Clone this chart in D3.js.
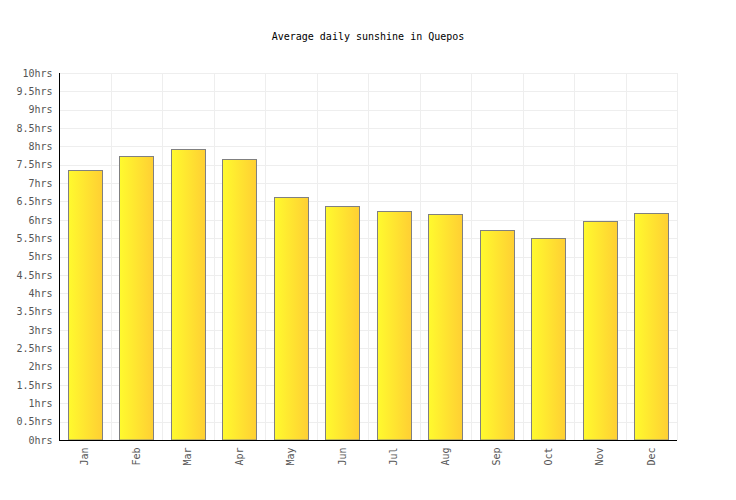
<!DOCTYPE html>
<html><head><meta charset="utf-8">
<script src="https://cdn.jsdelivr.net/npm/d3@7"></script>
<style>body{margin:0;background:#fff}</style>
</head><body>
<svg id="c" width="736" height="500"></svg>
<script>
const months = ["Jan","Feb","Mar","Apr","May","Jun","Jul","Aug","Sep","Oct","Nov","Dec"];
const sunshine = [7.35,7.73,7.92,7.67,6.61,6.37,6.23,6.15,5.71,5.5,5.96,6.18];
const yTicks = [0,0.5,1,1.5,2,2.5,3,3.5,4,4.5,5,5.5,6,6.5,7,7.5,8,8.5,9,9.5,10];
const title = "Average daily sunshine in Quepos";

const svg = d3.select("#c");
const m = {l:59, r:677, t:73, b:440};
const x = d3.scaleBand().domain(months).range([m.l, m.r]).paddingInner(0.34).paddingOuter(0.17);
const xb = d3.scaleBand().domain(months).range([m.l, m.r]);
const y = d3.scaleLinear().domain([0,10]).range([m.b, m.t]);
const font = "'DejaVu Sans Mono', monospace";

const defs = svg.append("defs");
const g = defs.append("linearGradient").attr("id","gr").attr("x1","0").attr("x2","1").attr("y1","0").attr("y2","0");
g.append("stop").attr("offset","0").attr("stop-color","#fffa2e");
g.append("stop").attr("offset","1").attr("stop-color","#ffcf33");

// grid
svg.append("g").selectAll("line").data(yTicks).join("line")
  .attr("x1",m.l).attr("x2",m.r).attr("y1",d=>Math.round(y(d))+0.5).attr("y2",d=>Math.round(y(d))+0.5)
  .attr("stroke","#eeeeee").attr("stroke-width",1);
svg.append("g").selectAll("line").data(months.slice(1).concat(["__end"])).join("line")
  .attr("x1",d=>Math.round(d==="__end"?m.r:xb(d))+0.5).attr("x2",d=>Math.round(d==="__end"?m.r:xb(d))+0.5)
  .attr("y1",m.t).attr("y2",m.b).attr("stroke","#eeeeee");

// bars
svg.append("g").selectAll("rect").data(sunshine).join("rect")
  .attr("x",(d,i)=>Math.round(x(months[i]))+0.5)
  .attr("width",Math.round(x.bandwidth()))
  .attr("y",d=>Math.round(y(d))+0.5)
  .attr("height",d=>m.b-Math.round(y(d))-0.5)
  .attr("fill","url(#gr)").attr("stroke","#808080").attr("stroke-width",1);

// axes
const ya = svg.append("g").attr("transform",`translate(${m.l+0.5},0)`)
  .call(d3.axisLeft(y).tickValues(yTicks).tickSize(0).tickFormat(d=>d+"hrs"));
ya.select(".domain").attr("stroke","#000").attr("d",`M0,${m.t}V${m.b}`);
ya.selectAll("text").attr("font-family",font).attr("font-size","10px").attr("fill","#555").attr("x",-7);

const xa = svg.append("g").attr("transform",`translate(0,${m.b+0.5})`)
  .call(d3.axisBottom(xb).tickSize(0));
xa.select(".domain").attr("stroke","#000").attr("d",`M${m.l},0H${m.r}`);
xa.selectAll("text").attr("font-family",font).attr("font-size","10px").attr("fill","#555")
  .attr("transform","rotate(-90)").attr("text-anchor","end").attr("dy","0.35em").attr("x",-7).attr("y",0);

svg.append("text").attr("x",368).attr("y",40).attr("text-anchor","middle")
  .attr("font-family",font).attr("font-size","10px").attr("fill","#000").text(title);
</script>
</body></html>
